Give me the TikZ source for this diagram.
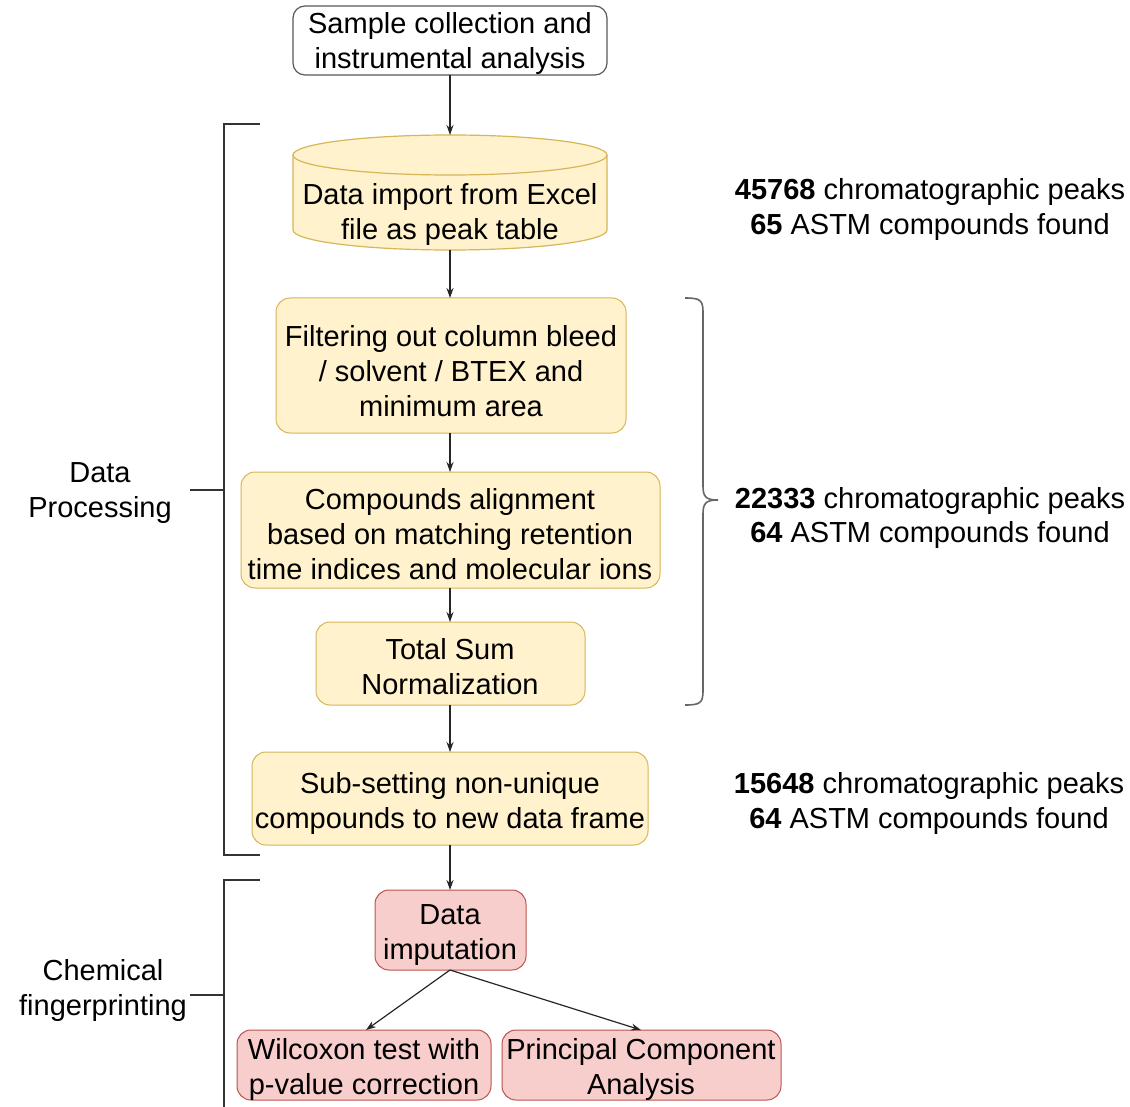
\documentclass[tikz,border=0pt]{standalone}
\usepackage{fontspec}
\setmainfont{Liberation Sans}
\usetikzlibrary{arrows.meta}
\definecolor{yfill}{HTML}{FFF2CC}
\definecolor{ydraw}{HTML}{D6B656}
\definecolor{rfill}{HTML}{F8CECC}
\definecolor{rdraw}{HTML}{B85450}
\definecolor{lineg}{HTML}{333333}
\begin{document}
\begin{tikzpicture}[x=1pt,y=-1pt,
  txt/.style={align=center,font=\fontsize{29}{35}\selectfont,text=black,inner sep=0pt},
  ybox/.style={draw=ydraw,fill=yfill,rounded corners=14pt,line width=1pt},
  rbox/.style={draw=rdraw,fill=rfill,rounded corners=14pt,line width=1pt},
  wbox/.style={draw=black!65,fill=white,rounded corners=12pt,line width=1.2pt},
  conn/.style={draw=black!85,line width=1.2pt,-{Stealth[length=10pt,width=7pt]}},
  brk/.style={draw=lineg,line width=2.2pt},
  brc/.style={draw=black!60,line width=1.6pt}
]
\useasboundingbox (0,0) rectangle (1130,1107);
% top white box
\draw[wbox] (293,6) rectangle (607,75);
\node[txt] (sample) at (450,44) {Sample collection and\\instrumental analysis};
\coordinate (sampleS) at (450,75);
% cylinder
\fill[yfill] (293,155) -- (293,230) arc[start angle=180,end angle=0,x radius=157,y radius=20] -- (607,155) arc[start angle=0,end angle=-180,x radius=157,y radius=20] -- cycle;
\draw[ydraw,line width=1.2pt] (293,155) -- (293,230) arc[start angle=180,end angle=0,x radius=157,y radius=20] -- (607,155) arc[start angle=0,end angle=-180,x radius=157,y radius=20] -- cycle;
\draw[ydraw,line width=1.2pt] (293,155) arc[start angle=180,end angle=0,x radius=157,y radius=20];
\node[txt] (import) at (450,215) {Data import from Excel\\file as peak table};
\coordinate (cylN) at (450,135);
\coordinate (cylS) at (450,250);
% yellow boxes
\draw[ybox] (276,298) rectangle (626,433);
\node[txt] (filter) at (451,371) {Filtering out column bleed\\/ solvent / BTEX and\\minimum area};
\draw[ybox] (241,472) rectangle (660,588);
\node[txt] (align) at (450,534) {Compounds alignment\\based on matching retention\\time indices and molecular ions};
\draw[ybox] (316,622) rectangle (585,705);
\node[txt] (norm) at (450,667) {Total Sum\\Normalization};
\draw[ybox] (252,752) rectangle (648,845);
\node[txt] (subset) at (450,803) {Sub-setting non-unique\\compounds to new data frame};
% red boxes
\draw[rbox] (375,890) rectangle (526,970);
\node[txt] (imput) at (450,935) {Data\\imputation};
\draw[rbox] (237,1030) rectangle (491,1100);
\node[txt] (wilc) at (364,1069) {Wilcoxon test with\\p-value correction};
\draw[rbox] (502,1030) rectangle (781,1100);
\node[txt] (pca) at (641,1069) {Principal Component\\Analysis};
% anchor coordinates
\coordinate (filterN) at (450,298); \coordinate (filterS) at (450,433);
\coordinate (alignN) at (450,472); \coordinate (alignS) at (450,588);
\coordinate (normN) at (450,622); \coordinate (normS) at (450,705);
\coordinate (subsetN) at (450,752); \coordinate (subsetS) at (450,845);
\coordinate (imputN) at (450,890); \coordinate (imputS) at (450,970);
\coordinate (wilcN) at (366,1030); \coordinate (pcaN) at (641,1030);
% connectors
\draw[conn] (sampleS) -- (cylN);
\draw[conn] (cylS) -- (filterN);
\draw[conn] (filterS) -- (alignN);
\draw[conn] (alignS) -- (normN);
\draw[conn] (normS) -- (subsetN);
\draw[conn] (subsetS) -- (imputN);
\draw[conn] (imputS) -- (wilcN);
\draw[conn] (imputS) -- (pcaN);
% left brackets
\draw[brk] (260,124) -- (224,124) -- (224,855) -- (260,855);
\draw[brk] (190,490) -- (224,490);
\node[txt] (dp) at (100,493) {Data\\Processing};
\draw[brk] (260,880) -- (224,880) -- (224,1107);
\draw[brk] (190,995) -- (224,995);
\node[txt] (cf) at (103,990) {Chemical\\fingerprinting};
% right brace
\draw[brc] (685,298) .. controls (700,298) and (703,300) .. (703,312) -- (703,486) .. controls (703,497) and (706,500) .. (718,500) .. controls (706,500) and (703,503) .. (703,514) -- (703,691) .. controls (703,703) and (700,705) .. (685,705);
% right texts
\node[txt] (t1) at (930,210) {\textbf{45768} chromatographic peaks\\\textbf{65} ASTM compounds found};
\node[txt] (t2) at (930,518) {\textbf{22333} chromatographic peaks\\\textbf{64} ASTM compounds found};
\node[txt] (t3) at (929,803) {\textbf{15648} chromatographic peaks\\\textbf{64} ASTM compounds found};
\end{tikzpicture}
\end{document}
